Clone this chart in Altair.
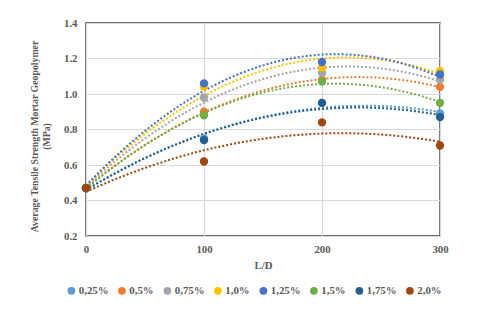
import altair as alt
import pandas as pd

ld = [0, 100, 200, 300]
series = ["0,25%", "0,5%", "0,75%", "1,0%", "1,25%", "1,5%", "1,75%", "2,0%"]
colors = ["#5B9BD5", "#ED7D31", "#A5A5A5", "#FFC000", "#4472C4", "#70AD47", "#255E91", "#9E480E"]
values = {
    "0,25%": [0.47, 0.75, 0.95, 0.89],
    "0,5%": [0.47, 0.90, 1.08, 1.04],
    "0,75%": [0.47, 0.98, 1.12, 1.08],
    "1,0%": [0.47, 1.04, 1.15, 1.13],
    "1,25%": [0.47, 1.06, 1.18, 1.11],
    "1,5%": [0.47, 0.88, 1.07, 0.95],
    "1,75%": [0.47, 0.74, 0.95, 0.87],
    "2,0%": [0.47, 0.62, 0.84, 0.71],
}

rows = []
for i, s in enumerate(series):
    for x, v in zip(ld, values[s]):
        rows.append({"ld": x, "val": v, "series": s, "order": i})
df = pd.DataFrame(rows)

FONT = "Liberation Serif"
TXT = "#595959"

color = alt.Color(
    "series:N",
    scale=alt.Scale(domain=series, range=colors),
    sort=series,
    legend=alt.Legend(
        title=None,
        orient="none",
        direction="horizontal",
        legendX=-20,
        legendY=262,
        symbolType="circle",
        symbolSize=60,
        symbolStrokeWidth=0,
        labelFont=FONT,
        labelFontSize=10.8,
        labelFontWeight="bold",
        labelColor=TXT,
        columnPadding=7.5,
        symbolOffset=0,
        labelOffset=2,
    ),
)

xenc = alt.X(
    "ld:Q",
    scale=alt.Scale(domain=[0, 300], nice=False),
    axis=alt.Axis(values=ld, title="L/D", labelPadding=7, titlePadding=6, labelFlush=False),
)
yenc = alt.Y(
    "val:Q",
    scale=alt.Scale(domain=[0.2, 1.4], nice=False),
    axis=alt.Axis(
        values=[0.2, 0.4, 0.6, 0.8, 1.0, 1.2, 1.4],
        format=".1f",
        title=["Average Tensile Strength Mortar Geopolymer", "(MPa)"],
        titleFontSize=9.8,
        titleY=113,
        labelPadding=9,
        titlePadding=12,
        labelFlush=False,
    ),
)

lines = (
    alt.Chart(df)
    .transform_regression("ld", "val", groupby=["series"], method="poly", order=2, extent=[0, 300])
    .mark_line(strokeDash=[2, 2], strokeWidth=2, clip=True)
    .encode(x=xenc, y=yenc, color=color, detail="series:N")
)

points = (
    alt.Chart(df)
    .mark_circle(size=70, opacity=1)
    .encode(x=xenc, y=yenc, color=color, order="order:Q")
)

chart = (
    alt.layer(lines, points)
    .properties(
        width=354,
        height=213,
        autosize=alt.AutoSizeParams(type="none"),
        padding={"left": 78, "top": 15, "right": 30, "bottom": 60},
        background="white",
    )
    .configure_view(stroke="#404040", strokeWidth=1.5)
    .configure_axis(
        domain=False,
        ticks=False,
        grid=True,
        gridColor="#D9D9D9",
        gridWidth=1.2,
        labelFont=FONT,
        labelFontSize=10.8,
        labelFontWeight="bold",
        labelColor=TXT,
        titleFont=FONT,
        titleFontSize=10.8,
        titleFontWeight="bold",
        titleColor=TXT,
    )
)

chart.save("out.html", embed_options={"renderer": "svg", "actions": False})
